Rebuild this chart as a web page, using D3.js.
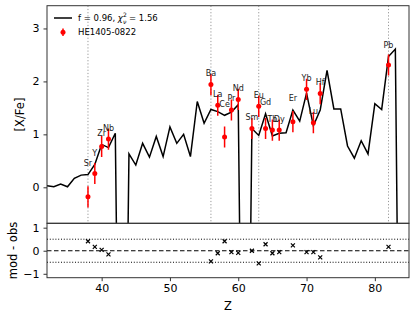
<!DOCTYPE html>
<html>
<head>
<meta charset="utf-8">
<script src="https://cdn.jsdelivr.net/npm/d3@7"></script>
<style>
  body { margin: 0; background: #fff; }
  text { font-family: "DejaVu Sans", sans-serif; }
</style>
</head>
<body>
<div id="chart"></div>
<script>
// model abundance pattern, one value per Z (off-scale values where the model has no element)
const modelZ = [32, 33, 34, 35, 36, 37, 38, 39, 40, 41, 42, 43, 44, 45, 46, 47, 48, 49, 50, 51,
  52, 53, 54, 55, 56, 57, 58, 59, 60, 61, 62, 63, 64, 65, 66, 67, 68, 69, 70, 71, 72, 73, 74,
  75, 76, 77, 78, 79, 80, 81, 82, 83, 84];
const modelVal = [0.03, 0.01, 0.06, 0.01, 0.17, 0.23, 0.24, 0.43, 0.81, 0.75, 1.02, -10, 0.63,
  0.42, 0.83, 0.57, 0.96, 0.58, 1.14, 0.83, 1.0, 0.58, 1.62, 1.21, 1.47, 1.43, 1.36, 1.42,
  1.56, -10, 1.11, 0.98, 1.39, 0.97, 1.02, 1.03, 1.46, 1.25, 1.78, 1.16, 1.46, 2.21, 1.48,
  1.48, 0.78, 0.55, 0.88, 0.63, 1.58, 1.47, 2.47, 2.61, -10];

// observed star
const obsZ = [38, 39, 40, 41, 56, 57, 58, 59, 60, 62, 63, 64, 65, 66, 68, 70, 71, 72, 82];
const obsName = ["Sr", "Y", "Zr", "Nb", "Ba", "La", "Ce", "Pr", "Nd", "Sm", "Eu", "Gd", "Tb",
  "Dy", "Er", "Yb", "Lu", "Hf", "Pb"];
const obsVal = [-0.18, 0.26, 0.77, 0.91, 1.94, 1.55, 0.95, 1.46, 1.66, 1.11, 1.53, 1.11, 1.08,
  1.08, 1.24, 1.85, 1.22, 1.77, 2.31];
const obsErr = [0.2, 0.2, 0.2, 0.2, 0.2, 0.2, 0.2, 0.2, 0.2, 0.2, 0.2, 0.2, 0.2, 0.2, 0.2, 0.2,
  0.2, 0.2, 0.2];
const resid = [0.41, 0.17, 0.04, -0.16, -0.46, -0.11, 0.41, -0.06, -0.09, 0.0, -0.55, 0.28,
  -0.11, -0.06, 0.23, -0.06, -0.06, -0.29, 0.17];

const refZ = [38, 56, 63, 82];
const xTicks = [40, 50, 60, 70, 80];
const yTicks = [0, 1, 2, 3];
const rTicks = [-1, 0, 1];

const width = 415, height = 319;
const left = 47, right = 409, top1 = 5.7, bot1 = 223.3, bot2 = 277.7;

const svg = d3.select("#chart").append("svg")
  .attr("width", width).attr("height", height);

const x = d3.scaleLinear().domain([32, 85]).range([left, right]);
const y = d3.scaleLinear().domain([-0.68, 3.43]).range([bot1, top1]);
const yr = d3.scaleLinear().domain([-1.17, 1.19]).range([bot2, bot1]);

svg.append("clipPath").attr("id", "clipTop")
  .append("rect").attr("x", left).attr("y", top1)
  .attr("width", right - left).attr("height", bot1 - top1);

const model = modelZ.map((z, i) => ({ z: z, v: modelVal[i] }));
const obs = obsZ.map((z, i) => ({
  z: z, v: obsVal[i], e: obsErr[i], name: obsName[i], r: resid[i],
  m: modelVal[modelZ.indexOf(z)]
}));

// top panel
const topG = svg.append("g").attr("clip-path", "url(#clipTop)");

topG.selectAll(".ref").data(refZ).join("line")
  .attr("x1", d => x(d)).attr("x2", d => x(d))
  .attr("y1", top1).attr("y2", bot1)
  .attr("stroke", "#999").attr("stroke-width", 1)
  .attr("stroke-dasharray", "1.2,2");

topG.append("path").datum(model)
  .attr("fill", "none").attr("stroke", "#000").attr("stroke-width", 1.5)
  .attr("d", d3.line().x(d => x(d.z)).y(d => y(d.v)));

topG.selectAll(".err").data(obs).join("line")
  .attr("x1", d => x(d.z)).attr("x2", d => x(d.z))
  .attr("y1", d => y(d.v - d.e)).attr("y2", d => y(d.v + d.e))
  .attr("stroke", "red").attr("stroke-width", 1.5);

topG.selectAll(".pt").data(obs).join("circle")
  .attr("cx", d => x(d.z)).attr("cy", d => y(d.v)).attr("r", 2.5)
  .attr("fill", "red");

topG.selectAll(".lab").data(obs).join("text")
  .attr("x", d => x(d.z))
  .attr("y", d => y(Math.max(d.v, d.m)) - 11)
  .attr("text-anchor", "middle").attr("dominant-baseline", "central")
  .attr("font-size", "8px").attr("fill", "#222")
  .text(d => d.name);

// legend
svg.append("line").attr("x1", 54).attr("x2", 72).attr("y1", 18).attr("y2", 18)
  .attr("stroke", "#000").attr("stroke-width", 1.5);
const leg1 = svg.append("text").attr("x", 78).attr("y", 21).attr("font-size", "8.5px");
leg1.append("tspan").text("f = 0.96, ");
leg1.append("tspan").attr("font-style", "italic").text("χ");
leg1.append("tspan").attr("font-size", "6px").attr("dy", -4).text("2");
leg1.append("tspan").attr("font-size", "6px").attr("font-style", "italic")
  .attr("dx", -3.8).attr("dy", 6.5).text("ν");
leg1.append("tspan").attr("dy", -2.5).text(" = 1.56");

svg.append("line").attr("x1", 63).attr("x2", 63).attr("y1", 28.5).attr("y2", 36)
  .attr("stroke", "red").attr("stroke-width", 1.5);
svg.append("circle").attr("cx", 63).attr("cy", 32.3).attr("r", 2.5).attr("fill", "red");
svg.append("text").attr("x", 78).attr("y", 35.3).attr("font-size", "8.5px")
  .text("HE1405-0822");

// bottom panel
svg.append("line").attr("x1", left).attr("x2", right)
  .attr("y1", yr(0)).attr("y2", yr(0))
  .attr("stroke", "#000").attr("stroke-width", 1.2).attr("stroke-dasharray", "4.5,2.5");
svg.selectAll(".hl").data([0.5, -0.5]).join("line")
  .attr("x1", left).attr("x2", right)
  .attr("y1", d => yr(d)).attr("y2", d => yr(d))
  .attr("stroke", "#000").attr("stroke-width", 1).attr("stroke-dasharray", "1,1.8");

const mk = 2;
const cross = svg.append("g").selectAll("g").data(obs).join("g")
  .attr("transform", d => `translate(${x(d.z)},${yr(d.r)})`);
cross.append("path")
  .attr("d", `M${-mk},${-mk}L${mk},${mk}M${-mk},${mk}L${mk},${-mk}`)
  .attr("stroke", "#000").attr("stroke-width", 1.2);

// frames
svg.append("rect").attr("x", left).attr("y", top1)
  .attr("width", right - left).attr("height", bot1 - top1)
  .attr("fill", "none").attr("stroke", "#333").attr("stroke-width", 1);
svg.append("rect").attr("x", left).attr("y", bot1)
  .attr("width", right - left).attr("height", bot2 - bot1)
  .attr("fill", "none").attr("stroke", "#333").attr("stroke-width", 1);

// axes
function styleAxis(g) {
  g.select(".domain").remove();
  g.selectAll(".tick line").attr("stroke", "#333");
  g.selectAll(".tick text").attr("fill", "#000").attr("font-size", "11px")
    .attr("font-family", "DejaVu Sans, sans-serif");
}

svg.append("g").attr("transform", `translate(${left},0)`)
  .call(d3.axisLeft(y).tickValues(yTicks).tickSize(3.5).tickPadding(4)
    .tickFormat(d3.format("d")))
  .call(styleAxis);

svg.append("g").attr("transform", `translate(${left},0)`)
  .call(d3.axisLeft(yr).tickValues(rTicks).tickSize(3.5).tickPadding(4)
    .tickFormat(d3.format("d")))
  .call(styleAxis);

svg.append("g").attr("transform", `translate(0,${bot2})`)
  .call(d3.axisBottom(x).tickValues(xTicks).tickSize(3.5).tickPadding(3.5)
    .tickFormat(d3.format("d")))
  .call(styleAxis);

// axis titles
svg.append("text").attr("x", (left + right) / 2).attr("y", 310)
  .attr("text-anchor", "middle").attr("font-size", "11.5px").text("Z");

svg.append("text")
  .attr("transform", `translate(24,${(top1 + bot1) / 2}) rotate(-90)`)
  .attr("text-anchor", "middle").attr("font-size", "11.5px").text("[X/Fe]");

svg.append("text")
  .attr("transform", `translate(17,${(bot1 + bot2) / 2}) rotate(-90)`)
  .attr("text-anchor", "middle").attr("font-size", "11.5px").text("mod - obs");
</script>
</body>
</html>
